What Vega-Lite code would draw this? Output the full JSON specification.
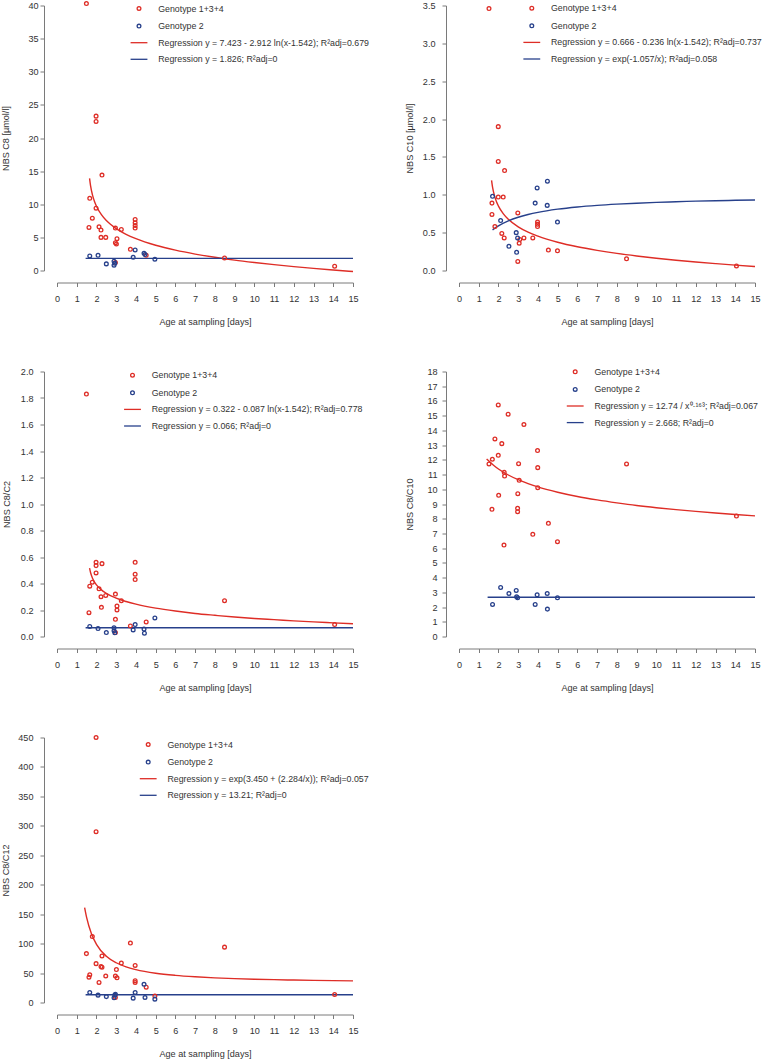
{
  "$schema": "https://vega.github.io/schema/vega-lite/v6.json",
  "autosize": {"type": "pad"},
  "padding": {"left": 1, "top": -1.5, "right": 0, "bottom": 0},
  "background": "white",
  "datasets": {
    "pts": [
      {"p":1,"s":"g134","a":1.49,"v":40.3},{"p":1,"s":"g134","a":1.98,"v":23.3},{"p":1,"s":"g134","a":1.98,"v":22.5},{"p":1,"s":"g134","a":2.28,"v":14.4},{"p":1,"s":"g134","a":1.66,"v":10.9},{"p":1,"s":"g134","a":1.98,"v":9.4},{"p":1,"s":"g134","a":1.79,"v":7.9},{"p":1,"s":"g134","a":1.62,"v":6.5},{"p":1,"s":"g134","a":2.13,"v":6.6},{"p":1,"s":"g134","a":2.23,"v":6.1},{"p":1,"s":"g134","a":2.23,"v":5.0},{"p":1,"s":"g134","a":2.47,"v":5.0},{"p":1,"s":"g134","a":2.96,"v":6.4},{"p":1,"s":"g134","a":3.26,"v":6.2},{"p":1,"s":"g134","a":3.04,"v":4.8},{"p":1,"s":"g134","a":2.96,"v":4.2},{"p":1,"s":"g134","a":3.01,"v":4.0},{"p":1,"s":"g134","a":3.96,"v":7.7},{"p":1,"s":"g134","a":3.96,"v":7.2},{"p":1,"s":"g134","a":3.96,"v":6.8},{"p":1,"s":"g134","a":3.96,"v":6.4},{"p":1,"s":"g134","a":3.72,"v":3.2},{"p":1,"s":"g134","a":2.96,"v":1.2},{"p":1,"s":"g134","a":4.52,"v":2.3},{"p":1,"s":"g134","a":8.49,"v":1.9},{"p":1,"s":"g134","a":14.07,"v":0.65},
      {"p":1,"s":"g2","a":1.66,"v":2.2},{"p":1,"s":"g2","a":2.08,"v":2.3},{"p":1,"s":"g2","a":2.5,"v":1.0},{"p":1,"s":"g2","a":2.89,"v":1.4},{"p":1,"s":"g2","a":2.89,"v":0.8},{"p":1,"s":"g2","a":2.93,"v":1.1},{"p":1,"s":"g2","a":3.86,"v":2.0},{"p":1,"s":"g2","a":3.96,"v":3.1},{"p":1,"s":"g2","a":4.41,"v":2.6},{"p":1,"s":"g2","a":4.46,"v":2.4},{"p":1,"s":"g2","a":4.96,"v":1.7},

      {"p":2,"s":"g134","a":1.52,"v":3.46},{"p":2,"s":"g134","a":1.99,"v":1.9},{"p":2,"s":"g134","a":1.99,"v":1.44},{"p":2,"s":"g134","a":2.31,"v":1.32},{"p":2,"s":"g134","a":1.99,"v":0.97},{"p":2,"s":"g134","a":2.24,"v":0.97},{"p":2,"s":"g134","a":1.67,"v":0.89},{"p":2,"s":"g134","a":1.67,"v":0.74},{"p":2,"s":"g134","a":1.82,"v":0.58},{"p":2,"s":"g134","a":2.17,"v":0.49},{"p":2,"s":"g134","a":2.29,"v":0.43},{"p":2,"s":"g134","a":2.98,"v":0.76},{"p":2,"s":"g134","a":3.05,"v":0.36},{"p":2,"s":"g134","a":3.08,"v":0.41},{"p":2,"s":"g134","a":3.29,"v":0.43},{"p":2,"s":"g134","a":3.74,"v":0.43},{"p":2,"s":"g134","a":3.98,"v":0.64},{"p":2,"s":"g134","a":3.98,"v":0.61},{"p":2,"s":"g134","a":3.98,"v":0.58},{"p":2,"s":"g134","a":2.98,"v":0.12},{"p":2,"s":"g134","a":4.53,"v":0.27},{"p":2,"s":"g134","a":4.99,"v":0.26},{"p":2,"s":"g134","a":8.49,"v":0.155},{"p":2,"s":"g134","a":14.06,"v":0.06},
      {"p":2,"s":"g2","a":1.7,"v":0.98},{"p":2,"s":"g2","a":2.11,"v":0.66},{"p":2,"s":"g2","a":2.53,"v":0.32},{"p":2,"s":"g2","a":2.9,"v":0.5},{"p":2,"s":"g2","a":2.92,"v":0.24},{"p":2,"s":"g2","a":2.97,"v":0.43},{"p":2,"s":"g2","a":3.86,"v":0.89},{"p":2,"s":"g2","a":3.96,"v":1.09},{"p":2,"s":"g2","a":4.47,"v":0.86},{"p":2,"s":"g2","a":4.48,"v":1.18},{"p":2,"s":"g2","a":4.99,"v":0.64},

      {"p":3,"s":"g134","a":1.49,"v":1.83},{"p":3,"s":"g134","a":1.98,"v":0.56},{"p":3,"s":"g134","a":1.98,"v":0.535},{"p":3,"s":"g134","a":2.28,"v":0.55},{"p":3,"s":"g134","a":1.98,"v":0.48},{"p":3,"s":"g134","a":1.79,"v":0.41},{"p":3,"s":"g134","a":1.66,"v":0.38},{"p":3,"s":"g134","a":2.13,"v":0.36},{"p":3,"s":"g134","a":2.23,"v":0.3},{"p":3,"s":"g134","a":2.47,"v":0.31},{"p":3,"s":"g134","a":2.96,"v":0.32},{"p":3,"s":"g134","a":3.26,"v":0.27},{"p":3,"s":"g134","a":3.04,"v":0.23},{"p":3,"s":"g134","a":3.04,"v":0.2},{"p":3,"s":"g134","a":2.25,"v":0.22},{"p":3,"s":"g134","a":1.62,"v":0.18},{"p":3,"s":"g134","a":2.96,"v":0.13},{"p":3,"s":"g134","a":3.96,"v":0.56},{"p":3,"s":"g134","a":3.96,"v":0.47},{"p":3,"s":"g134","a":3.96,"v":0.43},{"p":3,"s":"g134","a":3.72,"v":0.08},{"p":3,"s":"g134","a":2.96,"v":0.03},{"p":3,"s":"g134","a":4.52,"v":0.11},{"p":3,"s":"g134","a":8.49,"v":0.27},{"p":3,"s":"g134","a":14.07,"v":0.09},
      {"p":3,"s":"g2","a":1.66,"v":0.076},{"p":3,"s":"g2","a":2.08,"v":0.06},{"p":3,"s":"g2","a":2.5,"v":0.03},{"p":3,"s":"g2","a":2.89,"v":0.066},{"p":3,"s":"g2","a":2.89,"v":0.043},{"p":3,"s":"g2","a":2.93,"v":0.028},{"p":3,"s":"g2","a":3.86,"v":0.05},{"p":3,"s":"g2","a":3.96,"v":0.09},{"p":3,"s":"g2","a":4.41,"v":0.056},{"p":3,"s":"g2","a":4.43,"v":0.025},{"p":3,"s":"g2","a":4.96,"v":0.14},

      {"p":4,"s":"g134","a":1.52,"v":11.72},{"p":4,"s":"g134","a":1.69,"v":12.04},{"p":4,"s":"g134","a":1.82,"v":13.42},{"p":4,"s":"g134","a":1.99,"v":15.73},{"p":4,"s":"g134","a":1.99,"v":12.31},{"p":4,"s":"g134","a":2.01,"v":9.59},{"p":4,"s":"g134","a":1.67,"v":8.64},{"p":4,"s":"g134","a":2.17,"v":13.1},{"p":4,"s":"g134","a":2.29,"v":11.15},{"p":4,"s":"g134","a":2.31,"v":10.9},{"p":4,"s":"g134","a":2.28,"v":6.21},{"p":4,"s":"g134","a":2.49,"v":15.1},{"p":4,"s":"g134","a":3.02,"v":11.74},{"p":4,"s":"g134","a":2.98,"v":9.7},{"p":4,"s":"g134","a":2.97,"v":8.71},{"p":4,"s":"g134","a":2.97,"v":8.48},{"p":4,"s":"g134","a":3.05,"v":10.61},{"p":4,"s":"g134","a":3.29,"v":14.4},{"p":4,"s":"g134","a":3.74,"v":6.94},{"p":4,"s":"g134","a":3.98,"v":12.63},{"p":4,"s":"g134","a":3.99,"v":11.47},{"p":4,"s":"g134","a":3.99,"v":10.11},{"p":4,"s":"g134","a":4.53,"v":7.69},{"p":4,"s":"g134","a":4.99,"v":6.44},{"p":4,"s":"g134","a":8.49,"v":11.72},{"p":4,"s":"g134","a":14.06,"v":8.18},
      {"p":4,"s":"g2","a":1.7,"v":2.18},{"p":4,"s":"g2","a":2.11,"v":3.33},{"p":4,"s":"g2","a":2.53,"v":2.92},{"p":4,"s":"g2","a":2.9,"v":3.13},{"p":4,"s":"g2","a":2.92,"v":2.7},{"p":4,"s":"g2","a":2.97,"v":2.63},{"p":4,"s":"g2","a":3.86,"v":2.18},{"p":4,"s":"g2","a":3.96,"v":2.83},{"p":4,"s":"g2","a":4.47,"v":2.92},{"p":4,"s":"g2","a":4.48,"v":1.86},{"p":4,"s":"g2","a":4.99,"v":2.63},

      {"p":5,"s":"g134","a":1.98,"v":450},{"p":5,"s":"g134","a":1.98,"v":290},{"p":5,"s":"g134","a":1.79,"v":112},{"p":5,"s":"g134","a":1.49,"v":83},{"p":5,"s":"g134","a":1.98,"v":66},{"p":5,"s":"g134","a":2.28,"v":79},{"p":5,"s":"g134","a":2.23,"v":61},{"p":5,"s":"g134","a":2.28,"v":60},{"p":5,"s":"g134","a":1.66,"v":47},{"p":5,"s":"g134","a":1.62,"v":43},{"p":5,"s":"g134","a":2.13,"v":34},{"p":5,"s":"g134","a":2.47,"v":45},{"p":5,"s":"g134","a":2.96,"v":45},{"p":5,"s":"g134","a":3.04,"v":42},{"p":5,"s":"g134","a":3.01,"v":56},{"p":5,"s":"g134","a":3.26,"v":67},{"p":5,"s":"g134","a":3.72,"v":101},{"p":5,"s":"g134","a":3.96,"v":63},{"p":5,"s":"g134","a":3.96,"v":37},{"p":5,"s":"g134","a":3.96,"v":34},{"p":5,"s":"g134","a":4.52,"v":26},{"p":5,"s":"g134","a":2.96,"v":8.5},{"p":5,"s":"g134","a":4.96,"v":11},{"p":5,"s":"g134","a":8.49,"v":94},{"p":5,"s":"g134","a":14.07,"v":13.6},
      {"p":5,"s":"g2","a":1.66,"v":17},{"p":5,"s":"g2","a":2.08,"v":12.5},{"p":5,"s":"g2","a":2.5,"v":10},{"p":5,"s":"g2","a":2.89,"v":8},{"p":5,"s":"g2","a":2.93,"v":12.5},{"p":5,"s":"g2","a":2.96,"v":14},{"p":5,"s":"g2","a":3.86,"v":7.4},{"p":5,"s":"g2","a":3.96,"v":17},{"p":5,"s":"g2","a":4.41,"v":31},{"p":5,"s":"g2","a":4.46,"v":8.5},{"p":5,"s":"g2","a":4.96,"v":5.7}
    ],
    "fits": [
      {"p":1,"s":"r134","a":1.65,"v":13.9},{"p":1,"s":"r134","a":1.7,"v":12.8},{"p":1,"s":"r134","a":1.8,"v":11.37},{"p":1,"s":"r134","a":1.9,"v":10.41},{"p":1,"s":"r134","a":2.0,"v":9.7},{"p":1,"s":"r134","a":2.25,"v":8.43},{"p":1,"s":"r134","a":2.5,"v":7.55},{"p":1,"s":"r134","a":3,"v":6.33},{"p":1,"s":"r134","a":3.5,"v":5.47},{"p":1,"s":"r134","a":4,"v":4.81},{"p":1,"s":"r134","a":5,"v":3.81},{"p":1,"s":"r134","a":6,"v":3.07},{"p":1,"s":"r134","a":7,"v":2.48},{"p":1,"s":"r134","a":8,"v":1.99},{"p":1,"s":"r134","a":9,"v":1.57},{"p":1,"s":"r134","a":10,"v":1.21},{"p":1,"s":"r134","a":11,"v":0.88},{"p":1,"s":"r134","a":12,"v":0.59},{"p":1,"s":"r134","a":13,"v":0.32},{"p":1,"s":"r134","a":14,"v":0.08},{"p":1,"s":"r134","a":15,"v":-0.15},
      {"p":1,"s":"r2","a":1.45,"v":1.826},{"p":1,"s":"r2","a":15,"v":1.826},

      {"p":2,"s":"r134","a":1.65,"v":1.191},{"p":2,"s":"r134","a":1.7,"v":1.101},{"p":2,"s":"r134","a":1.8,"v":0.986},{"p":2,"s":"r134","a":1.9,"v":0.908},{"p":2,"s":"r134","a":2.0,"v":0.85},{"p":2,"s":"r134","a":2.25,"v":0.747},{"p":2,"s":"r134","a":2.5,"v":0.676},{"p":2,"s":"r134","a":3,"v":0.577},{"p":2,"s":"r134","a":3.5,"v":0.507},{"p":2,"s":"r134","a":4,"v":0.454},{"p":2,"s":"r134","a":5,"v":0.373},{"p":2,"s":"r134","a":6,"v":0.313},{"p":2,"s":"r134","a":7,"v":0.266},{"p":2,"s":"r134","a":8,"v":0.226},{"p":2,"s":"r134","a":9,"v":0.192},{"p":2,"s":"r134","a":10,"v":0.162},{"p":2,"s":"r134","a":11,"v":0.136},{"p":2,"s":"r134","a":12,"v":0.112},{"p":2,"s":"r134","a":13,"v":0.091},{"p":2,"s":"r134","a":14,"v":0.071},{"p":2,"s":"r134","a":15,"v":0.053},
      {"p":2,"s":"r2","a":1.7,"v":0.537},{"p":2,"s":"r2","a":2.0,"v":0.59},{"p":2,"s":"r2","a":2.5,"v":0.655},{"p":2,"s":"r2","a":3,"v":0.703},{"p":2,"s":"r2","a":3.5,"v":0.739},{"p":2,"s":"r2","a":4,"v":0.768},{"p":2,"s":"r2","a":5,"v":0.81},{"p":2,"s":"r2","a":6,"v":0.839},{"p":2,"s":"r2","a":7,"v":0.86},{"p":2,"s":"r2","a":8,"v":0.876},{"p":2,"s":"r2","a":9,"v":0.889},{"p":2,"s":"r2","a":10,"v":0.9},{"p":2,"s":"r2","a":11,"v":0.908},{"p":2,"s":"r2","a":12,"v":0.916},{"p":2,"s":"r2","a":13,"v":0.922},{"p":2,"s":"r2","a":14,"v":0.927},{"p":2,"s":"r2","a":15,"v":0.932},

      {"p":3,"s":"r134","a":1.65,"v":0.516},{"p":3,"s":"r134","a":1.7,"v":0.483},{"p":3,"s":"r134","a":1.8,"v":0.44},{"p":3,"s":"r134","a":1.9,"v":0.411},{"p":3,"s":"r134","a":2.0,"v":0.39},{"p":3,"s":"r134","a":2.25,"v":0.352},{"p":3,"s":"r134","a":2.5,"v":0.326},{"p":3,"s":"r134","a":3,"v":0.289},{"p":3,"s":"r134","a":3.5,"v":0.264},{"p":3,"s":"r134","a":4,"v":0.244},{"p":3,"s":"r134","a":5,"v":0.214},{"p":3,"s":"r134","a":6,"v":0.192},{"p":3,"s":"r134","a":7,"v":0.174},{"p":3,"s":"r134","a":8,"v":0.16},{"p":3,"s":"r134","a":9,"v":0.147},{"p":3,"s":"r134","a":10,"v":0.136},{"p":3,"s":"r134","a":11,"v":0.127},{"p":3,"s":"r134","a":12,"v":0.118},{"p":3,"s":"r134","a":13,"v":0.11},{"p":3,"s":"r134","a":14,"v":0.103},{"p":3,"s":"r134","a":15,"v":0.096},
      {"p":3,"s":"r2","a":1.45,"v":0.066},{"p":3,"s":"r2","a":15,"v":0.066},

      {"p":4,"s":"r134","a":1.4,"v":12.06},{"p":4,"s":"r134","a":1.5,"v":11.93},{"p":4,"s":"r134","a":1.75,"v":11.63},{"p":4,"s":"r134","a":2,"v":11.38},{"p":4,"s":"r134","a":2.5,"v":10.97},{"p":4,"s":"r134","a":3,"v":10.65},{"p":4,"s":"r134","a":3.5,"v":10.39},{"p":4,"s":"r134","a":4,"v":10.16},{"p":4,"s":"r134","a":5,"v":9.8},{"p":4,"s":"r134","a":6,"v":9.51},{"p":4,"s":"r134","a":7,"v":9.28},{"p":4,"s":"r134","a":8,"v":9.08},{"p":4,"s":"r134","a":9,"v":8.9},{"p":4,"s":"r134","a":10,"v":8.75},{"p":4,"s":"r134","a":11,"v":8.62},{"p":4,"s":"r134","a":12,"v":8.5},{"p":4,"s":"r134","a":13,"v":8.39},{"p":4,"s":"r134","a":14,"v":8.29},{"p":4,"s":"r134","a":15,"v":8.19},
      {"p":4,"s":"r2","a":1.45,"v":2.668},{"p":4,"s":"r2","a":15,"v":2.668},

      {"p":5,"s":"r134","a":1.4,"v":161.0},{"p":5,"s":"r134","a":1.5,"v":144.4},{"p":5,"s":"r134","a":1.75,"v":116.2},{"p":5,"s":"r134","a":2,"v":98.7},{"p":5,"s":"r134","a":2.5,"v":78.5},{"p":5,"s":"r134","a":3,"v":67.5},{"p":5,"s":"r134","a":3.5,"v":60.5},{"p":5,"s":"r134","a":4,"v":55.8},{"p":5,"s":"r134","a":5,"v":49.7},{"p":5,"s":"r134","a":6,"v":46.1},{"p":5,"s":"r134","a":7,"v":43.7},{"p":5,"s":"r134","a":8,"v":41.9},{"p":5,"s":"r134","a":9,"v":40.6},{"p":5,"s":"r134","a":10,"v":39.6},{"p":5,"s":"r134","a":11,"v":38.8},{"p":5,"s":"r134","a":12,"v":38.1},{"p":5,"s":"r134","a":13,"v":37.55},{"p":5,"s":"r134","a":14,"v":37.1},{"p":5,"s":"r134","a":15,"v":36.7},
      {"p":5,"s":"r2","a":1.45,"v":13.21},{"p":5,"s":"r2","a":15,"v":13.21}
    ]
  },
  "columns": 2,
  "spacing": {"row": 101, "column": 106},
  "bounds": "flush",
  "resolve": {
    "scale": {"x": "independent", "y": "independent", "color": "independent", "shape": "independent"},
    "legend": {"color": "independent", "shape": "independent"}
  },
  "concat": [
    {
      "width": 296, "height": 265,
      "encoding": {
        "x": {"field": "a", "type": "quantitative", "scale": {"domain": [0, 15], "nice": false, "zero": false}, "axis": {"values": [0,1,2,3,4,5,6,7,8,9,10,11,12,13,14,15], "title": "Age at sampling [days]"}},
        "y": {"field": "v", "type": "quantitative", "scale": {"domain": [0, 40], "nice": false, "zero": false}, "axis": {"values": [0,5,10,15,20,25,30,35,40], "title": "NBS C8 [µmol/l]", "labelPadding": 2, "titlePadding": 17}}
      },
      "layer": [
        {"data": {"name": "fits"}, "transform": [{"filter": "datum.p == 1 && datum.s == 'r134'"}], "mark": {"type": "line", "color": "#de2d26", "strokeWidth": 1.4, "interpolate": "monotone"}, "encoding": {}},
        {"data": {"name": "fits"}, "transform": [{"filter": "datum.p == 1 && datum.s == 'r2'"}], "mark": {"type": "line", "color": "#27408b", "strokeWidth": 1.4, "interpolate": "monotone"}, "encoding": {}},
        {
          "data": {"name": "pts"},
          "transform": [{"filter": "datum.p == 1"}],
          "mark": {"type": "point", "filled": false, "size": 14, "strokeWidth": 1.3, "opacity": 1},
          "encoding": {
            "color": {"field": "s", "type": "nominal", "scale": {"domain": ["g134","g2","r134","r2"], "range": ["#de2d26","#27408b","#de2d26","#27408b"]},
              "legend": {"title": null, "orient": "none", "legendX": 77.6, "legendY": -1.4, "labelExpr": "datum.value == 'g134' ? 'Genotype 1+3+4' : datum.value == 'g2' ? 'Genotype 2' : datum.value == 'r134' ? 'Regression y = 7.423 - 2.912 ln(x-1.542); R²adj=0.679' : 'Regression y = 1.826; R²adj=0'"}},
            "shape": {"field": "s", "type": "nominal", "scale": {"domain": ["g134","g2","r134","r2"], "range": ["circle","circle","M-4.5,0L4.5,0","M-4.5,0L4.5,0"]},
              "legend": {"title": null, "orient": "none", "legendX": 77.6, "legendY": -1.4, "labelExpr": "datum.value == 'g134' ? 'Genotype 1+3+4' : datum.value == 'g2' ? 'Genotype 2' : datum.value == 'r134' ? 'Regression y = 7.423 - 2.912 ln(x-1.542); R²adj=0.679' : 'Regression y = 1.826; R²adj=0'"}}
          }
        }
      ]
    },
    {
      "width": 296, "height": 265,
      "encoding": {
        "x": {"field": "a", "type": "quantitative", "scale": {"domain": [0, 15], "nice": false, "zero": false}, "axis": {"values": [0,1,2,3,4,5,6,7,8,9,10,11,12,13,14,15], "title": "Age at sampling [days]"}},
        "y": {"field": "v", "type": "quantitative", "scale": {"domain": [0, 3.5], "nice": false, "zero": false}, "axis": {"values": [0,0.5,1,1.5,2,2.5,3,3.5], "format": ".1f", "title": "NBS C10 [µmol/l]", "labelPadding": 7, "titlePadding": 8}}
      },
      "layer": [
        {"data": {"name": "fits"}, "transform": [{"filter": "datum.p == 2 && datum.s == 'r134'"}], "mark": {"type": "line", "color": "#de2d26", "strokeWidth": 1.4, "interpolate": "monotone"}, "encoding": {}},
        {"data": {"name": "fits"}, "transform": [{"filter": "datum.p == 2 && datum.s == 'r2'"}], "mark": {"type": "line", "color": "#27408b", "strokeWidth": 1.4, "interpolate": "monotone"}, "encoding": {}},
        {
          "data": {"name": "pts"},
          "transform": [{"filter": "datum.p == 2"}],
          "mark": {"type": "point", "filled": false, "size": 14, "strokeWidth": 1.3, "opacity": 1},
          "encoding": {
            "color": {"field": "s", "type": "nominal", "scale": {"domain": ["g134","g2","r134","r2"], "range": ["#de2d26","#27408b","#de2d26","#27408b"]},
              "legend": {"title": null, "orient": "none", "legendX": 68.4, "legendY": -1.7, "labelExpr": "datum.value == 'g134' ? 'Genotype 1+3+4' : datum.value == 'g2' ? 'Genotype 2' : datum.value == 'r134' ? 'Regression y = 0.666 - 0.236 ln(x-1.542); R²adj=0.737' : 'Regression y = exp(-1.057/x); R²adj=0.058'"}},
            "shape": {"field": "s", "type": "nominal", "scale": {"domain": ["g134","g2","r134","r2"], "range": ["circle","circle","M-4.5,0L4.5,0","M-4.5,0L4.5,0"]},
              "legend": {"title": null, "orient": "none", "legendX": 68.4, "legendY": -1.7, "labelExpr": "datum.value == 'g134' ? 'Genotype 1+3+4' : datum.value == 'g2' ? 'Genotype 2' : datum.value == 'r134' ? 'Regression y = 0.666 - 0.236 ln(x-1.542); R²adj=0.737' : 'Regression y = exp(-1.057/x); R²adj=0.058'"}}
          }
        }
      ]
    },
    {
      "width": 296, "height": 265,
      "encoding": {
        "x": {"field": "a", "type": "quantitative", "scale": {"domain": [0, 15], "nice": false, "zero": false}, "axis": {"values": [0,1,2,3,4,5,6,7,8,9,10,11,12,13,14,15], "title": "Age at sampling [days]"}},
        "y": {"field": "v", "type": "quantitative", "scale": {"domain": [0, 2], "nice": false, "zero": false}, "axis": {"values": [0,0.2,0.4,0.6,0.8,1,1.2,1.4,1.6,1.8,2], "format": ".1f", "title": "NBS C8/C2", "labelPadding": 7, "titlePadding": 9}}
      },
      "layer": [
        {"data": {"name": "fits"}, "transform": [{"filter": "datum.p == 3 && datum.s == 'r134'"}], "mark": {"type": "line", "color": "#de2d26", "strokeWidth": 1.4, "interpolate": "monotone"}, "encoding": {}},
        {"data": {"name": "fits"}, "transform": [{"filter": "datum.p == 3 && datum.s == 'r2'"}], "mark": {"type": "line", "color": "#27408b", "strokeWidth": 1.4, "interpolate": "monotone"}, "encoding": {}},
        {
          "data": {"name": "pts"},
          "transform": [{"filter": "datum.p == 3"}],
          "mark": {"type": "point", "filled": false, "size": 14, "strokeWidth": 1.3, "opacity": 1},
          "encoding": {
            "color": {"field": "s", "type": "nominal", "scale": {"domain": ["g134","g2","r134","r2"], "range": ["#de2d26","#27408b","#de2d26","#27408b"]},
              "legend": {"title": null, "orient": "none", "legendX": 71.1, "legendY": -0.7, "labelExpr": "datum.value == 'g134' ? 'Genotype 1+3+4' : datum.value == 'g2' ? 'Genotype 2' : datum.value == 'r134' ? 'Regression y = 0.322 - 0.087 ln(x-1.542); R²adj=0.778' : 'Regression y = 0.066; R²adj=0'"}},
            "shape": {"field": "s", "type": "nominal", "scale": {"domain": ["g134","g2","r134","r2"], "range": ["circle","circle","M-4.5,0L4.5,0","M-4.5,0L4.5,0"]},
              "legend": {"title": null, "orient": "none", "legendX": 71.1, "legendY": -0.7, "labelExpr": "datum.value == 'g134' ? 'Genotype 1+3+4' : datum.value == 'g2' ? 'Genotype 2' : datum.value == 'r134' ? 'Regression y = 0.322 - 0.087 ln(x-1.542); R²adj=0.778' : 'Regression y = 0.066; R²adj=0'"}}
          }
        }
      ]
    },
    {
      "width": 296, "height": 265,
      "encoding": {
        "x": {"field": "a", "type": "quantitative", "scale": {"domain": [0, 15], "nice": false, "zero": false}, "axis": {"values": [0,1,2,3,4,5,6,7,8,9,10,11,12,13,14,15], "title": "Age at sampling [days]"}},
        "y": {"field": "v", "type": "quantitative", "scale": {"domain": [0, 18], "nice": false, "zero": false}, "axis": {"values": [0,1,2,3,4,5,6,7,8,9,10,11,12,13,14,15,16,17,18], "title": "NBS C8/C10", "labelPadding": 5, "titlePadding": 12}}
      },
      "layer": [
        {"data": {"name": "fits"}, "transform": [{"filter": "datum.p == 4 && datum.s == 'r134'"}], "mark": {"type": "line", "color": "#de2d26", "strokeWidth": 1.4, "interpolate": "monotone"}, "encoding": {}},
        {"data": {"name": "fits"}, "transform": [{"filter": "datum.p == 4 && datum.s == 'r2'"}], "mark": {"type": "line", "color": "#27408b", "strokeWidth": 1.4, "interpolate": "monotone"}, "encoding": {}},
        {
          "data": {"name": "pts"},
          "transform": [{"filter": "datum.p == 4"}],
          "mark": {"type": "point", "filled": false, "size": 14, "strokeWidth": 1.3, "opacity": 1},
          "encoding": {
            "color": {"field": "s", "type": "nominal", "scale": {"domain": ["g134","g2","r134","r2"], "range": ["#de2d26","#27408b","#de2d26","#27408b"]},
              "legend": {"title": null, "orient": "none", "legendX": 111.8, "legendY": -4.1, "labelExpr": "datum.value == 'g134' ? 'Genotype 1+3+4' : datum.value == 'g2' ? 'Genotype 2' : datum.value == 'r134' ? 'Regression y = 12.74 / x⁰·¹⁶³; R²adj=0.067' : 'Regression y = 2.668; R²adj=0'"}},
            "shape": {"field": "s", "type": "nominal", "scale": {"domain": ["g134","g2","r134","r2"], "range": ["circle","circle","M-4.5,0L4.5,0","M-4.5,0L4.5,0"]},
              "legend": {"title": null, "orient": "none", "legendX": 111.8, "legendY": -4.1, "labelExpr": "datum.value == 'g134' ? 'Genotype 1+3+4' : datum.value == 'g2' ? 'Genotype 2' : datum.value == 'r134' ? 'Regression y = 12.74 / x⁰·¹⁶³; R²adj=0.067' : 'Regression y = 2.668; R²adj=0'"}}
          }
        }
      ]
    },
    {
      "width": 296, "height": 265,
      "encoding": {
        "x": {"field": "a", "type": "quantitative", "scale": {"domain": [0, 15], "nice": false, "zero": false}, "axis": {"values": [0,1,2,3,4,5,6,7,8,9,10,11,12,13,14,15], "title": "Age at sampling [days]"}},
        "y": {"field": "v", "type": "quantitative", "scale": {"domain": [0, 450], "nice": false, "zero": false}, "axis": {"values": [0,50,100,150,200,250,300,350,400,450], "title": "NBS C8/C12", "labelPadding": 7, "titlePadding": 7}}
      },
      "layer": [
        {"data": {"name": "fits"}, "transform": [{"filter": "datum.p == 5 && datum.s == 'r134'"}], "mark": {"type": "line", "color": "#de2d26", "strokeWidth": 1.4, "interpolate": "monotone"}, "encoding": {}},
        {"data": {"name": "fits"}, "transform": [{"filter": "datum.p == 5 && datum.s == 'r2'"}], "mark": {"type": "line", "color": "#27408b", "strokeWidth": 1.4, "interpolate": "monotone"}, "encoding": {}},
        {
          "data": {"name": "pts"},
          "transform": [{"filter": "datum.p == 5"}],
          "mark": {"type": "point", "filled": false, "size": 14, "strokeWidth": 1.3, "opacity": 1},
          "encoding": {
            "color": {"field": "s", "type": "nominal", "scale": {"domain": ["g134","g2","r134","r2"], "range": ["#de2d26","#27408b","#de2d26","#27408b"]},
              "legend": {"title": null, "orient": "none", "legendX": 86.8, "legendY": 2.6, "labelExpr": "datum.value == 'g134' ? 'Genotype 1+3+4' : datum.value == 'g2' ? 'Genotype 2' : datum.value == 'r134' ? 'Regression y = exp(3.450 + (2.284/x)); R²adj=0.057' : 'Regression y = 13.21; R²adj=0'"}},
            "shape": {"field": "s", "type": "nominal", "scale": {"domain": ["g134","g2","r134","r2"], "range": ["circle","circle","M-4.5,0L4.5,0","M-4.5,0L4.5,0"]},
              "legend": {"title": null, "orient": "none", "legendX": 86.8, "legendY": 2.6, "labelExpr": "datum.value == 'g134' ? 'Genotype 1+3+4' : datum.value == 'g2' ? 'Genotype 2' : datum.value == 'r134' ? 'Regression y = exp(3.450 + (2.284/x)); R²adj=0.057' : 'Regression y = 13.21; R²adj=0'"}}
          }
        }
      ]
    }
  ],
  "config": {
    "font": "Liberation Sans",
    "view": {"stroke": null},
    "axis": {
      "grid": false,
      "labelFontSize": 9.1,
      "titleFontSize": 9.1,
      "titleFontWeight": "normal",
      "labelColor": "#333333",
      "titleColor": "#333333",
      "domainColor": "#7a7a7a",
      "tickColor": "#7a7a7a",
      "domainWidth": 1,
      "tickWidth": 1,
      "tickSize": 4,
      "labelFlush": false,
      "labelOverlap": false
    },
    "axisX": {"offset": 12, "labelPadding": 8, "titlePadding": 14},
    "axisY": {"offset": 13, "labelAngle": 0},
    "legend": {
      "labelFontSize": 8.8,
      "labelColor": "#333333",
      "symbolStrokeWidth": 1.3,
      "symbolSize": 14,
      "labelOffset": 14.8,
      "rowPadding": 6.6,
      "padding": 0,
      "labelLimit": 0
    }
  }
}
